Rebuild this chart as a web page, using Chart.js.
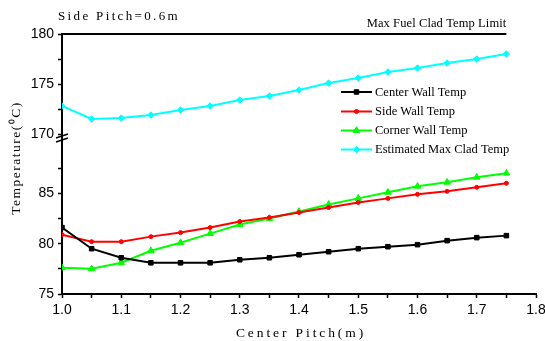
<!DOCTYPE html>
<html>
<head>
<meta charset="utf-8">
<script src="https://cdn.jsdelivr.net/npm/chart.js@4"></script>
<style>
  html, body { margin: 0; padding: 0; background: #fff; }
  #wrap { width: 545px; height: 341px; }
</style>
</head>
<body>
<div id="wrap"><canvas id="tempChart" width="545" height="341"></canvas></div>
<script>
const pitch = [1.0, 1.05, 1.1, 1.15, 1.2, 1.25, 1.3, 1.35, 1.4, 1.45, 1.5, 1.55, 1.6, 1.65, 1.7, 1.75];
const centerWall = [81.6, 79.5, 78.6, 78.1, 78.1, 78.1, 78.4, 78.6, 78.9, 79.2, 79.5, 79.7, 79.9, 80.3, 80.6, 80.8];
const sideWall = [80.9, 80.2, 80.2, 80.7, 81.1, 81.6, 82.2, 82.6, 83.1, 83.6, 84.1, 84.5, 84.9, 85.2, 85.6, 86.0];
const cornerWall = [77.6, 77.5, 78.1, 79.3, 80.1, 81.0, 81.9, 82.5, 83.2, 83.9, 84.5, 85.1, 85.7, 86.1, 86.6, 87.0];
const maxClad = [172.8, 171.5, 171.6, 171.9, 172.4, 172.8, 173.4, 173.8, 174.4, 175.1, 175.6, 176.2, 176.6, 177.1, 177.5, 178.0];
const limitPitch = [1.0, 1.75];
const limitTemp = [180, 180];

const xTicks = [1.0, 1.05, 1.1, 1.15, 1.2, 1.25, 1.3, 1.35, 1.4, 1.45, 1.5, 1.55, 1.6, 1.65, 1.7, 1.75, 1.8];
const yLowTicks = [75, 77.5, 80, 82.5, 85, 87.5];
const yHighTicks = [170, 172.5, 175, 177.5, 180];

const serif = "'Liberation Serif', 'Times New Roman', serif";
const sans = "'Liberation Sans', Arial, sans-serif";

function pts(ys) {
  return pitch.map((x, i) => ({ x: x, y: ys[i] }));
}

const series = [
  { label: "Center Wall Temp", data: pts(centerWall), color: "#000000", style: "rect", r: 3.2, axis: "yLow" },
  { label: "Side Wall Temp", data: pts(sideWall), color: "#ff0000", style: "circle", r: 2, axis: "yLow" },
  { label: "Corner Wall Temp", data: pts(cornerWall), color: "#00ff00", style: "triangle", r: 3.8, axis: "yLow" },
  { label: "Estimated Max Clad Temp", data: pts(maxClad), color: "#00ffff", style: "rectRot", r: 3.2, axis: "yHigh" }
];

const datasets = series.map(s => ({
  label: s.label,
  data: s.data,
  yAxisID: s.axis,
  borderColor: s.color,
  backgroundColor: s.color,
  borderWidth: 2,
  pointStyle: s.style,
  pointRadius: s.r,
  pointBorderWidth: 1,
  tension: 0
}));

datasets.push({
  label: "limit",
  data: limitPitch.map((x, i) => ({ x: x, y: limitTemp[i] })),
  yAxisID: "yHigh",
  borderColor: "#000000",
  borderWidth: 2,
  pointRadius: 0,
  clip: false
});

function spacedText(ctx, text, x, y, spacing, align) {
  ctx.letterSpacing = spacing + "px";
  ctx.textAlign = align;
  ctx.fillText(text, x, y);
  ctx.letterSpacing = "0px";
}

const decorations = {
  id: "decorations",
  afterDraw(chart) {
    const ctx = chart.ctx;
    const xs = chart.scales.x;
    const yl = chart.scales.yLow;
    ctx.save();
    ctx.fillStyle = "#000";
    ctx.textBaseline = "alphabetic";

    ctx.font = "13px " + serif;
    spacedText(ctx, "Side Pitch=0.6m", 58, 20, 2.35, "left");

    ctx.font = "12.5px " + serif;
    spacedText(ctx, "Max Fuel Clad Temp Limit", xs.getPixelForValue(1.75), 27, 0.1, "right");

    ctx.font = "13.5px " + serif;
    spacedText(ctx, "Center Pitch(m)", 301, 337, 2.9, "center");

    ctx.save();
    ctx.translate(20, 158);
    ctx.rotate(-Math.PI / 2);
    ctx.font = "13.5px " + serif;
    spacedText(ctx, "Temperature(\u2070C)", 0, 0, 1.5, "center");
    ctx.restore();

    // axis break marks
    const by = yl.top;
    ctx.strokeStyle = "#000";
    ctx.lineWidth = 1.5;
    ctx.beginPath();
    ctx.moveTo(56, by - 1); ctx.lineTo(68, by - 5);
    ctx.moveTo(56, by + 3); ctx.lineTo(68, by - 1);
    ctx.stroke();

    // legend
    ctx.font = "12.5px " + serif;
    ctx.textBaseline = "middle";
    const rows = [92, 111.5, 130.5, 149.5];
    series.forEach((s, i) => {
      const y = rows[i];
      ctx.strokeStyle = s.color;
      ctx.fillStyle = s.color;
      ctx.lineWidth = 2;
      ctx.beginPath();
      ctx.moveTo(341, y);
      ctx.lineTo(372, y);
      ctx.stroke();
      ctx.lineWidth = 1;
      Chart.helpers.drawPoint(ctx, { pointStyle: s.style, radius: s.r, rotation: 0, borderWidth: 1 }, 356.5, y);
      ctx.fillStyle = "#000";
      ctx.textAlign = "left";
      ctx.fillText(s.label, 375, y + 0.5);
    });
    ctx.restore();
  }
};

function yAxis(min, max, ticks, weight) {
  return {
    type: "linear",
    position: "left",
    stack: "temp",
    stackWeight: weight,
    min: min,
    max: max,
    afterBuildTicks: scale => { scale.ticks = ticks.map(v => ({ value: v })); },
    afterFit: scale => { scale.width = 62; },
    border: { display: true, color: "#000", width: 2 },
    grid: { drawOnChartArea: false, drawTicks: true, tickLength: 4, tickColor: "#000", tickWidth: 1.5 },
    ticks: {
      autoSkip: false,
      padding: 4,
      color: "#000",
      font: { family: sans, size: 14 },
      callback: v => (v % 5 === 0 ? String(v) : "")
    }
  };
}

new Chart(document.getElementById("tempChart"), {
  type: "line",
  data: { datasets: datasets },
  plugins: [decorations],
  options: {
    responsive: false,
    animation: false,
    layout: { padding: { top: 34, right: 0, bottom: 0, left: 0 } },
    plugins: { legend: { display: false }, title: { display: false }, tooltip: { enabled: false } },
    scales: {
      x: {
        type: "linear",
        min: 1.0,
        max: 1.8,
        afterBuildTicks: scale => { scale.ticks = xTicks.map(v => ({ value: v })); },
        afterFit: scale => { scale.height = 47; scale.paddingRight = 9; scale.paddingLeft = 0; },
        border: { display: true, color: "#000", width: 2 },
        grid: { drawOnChartArea: false, drawTicks: true, tickLength: 4, tickColor: "#000", tickWidth: 1.5 },
        ticks: {
          autoSkip: false,
          maxRotation: 0,
          padding: 4,
          color: "#000",
          font: { family: sans, size: 14 },
          callback: v => (Math.round(v * 100) % 10 === 0 ? v.toFixed(1) : "")
        }
      },
      yLow: yAxis(75, 90.4, yLowTicks, 155),
      yHigh: yAxis(169.5, 180, yHighTicks, 105)
    }
  }
});
</script>
</body>
</html>
